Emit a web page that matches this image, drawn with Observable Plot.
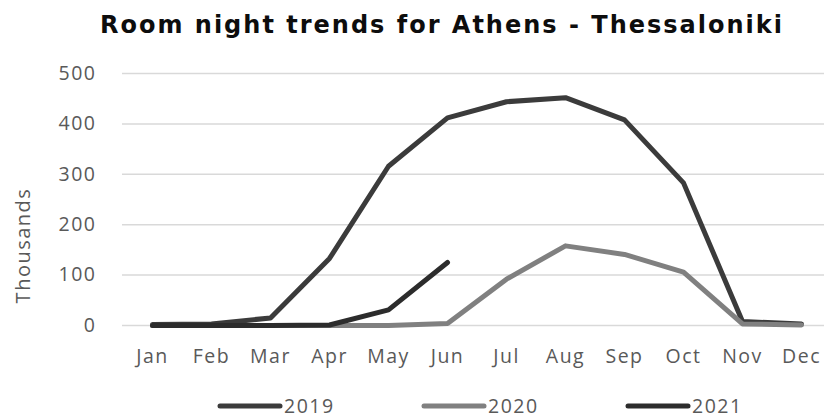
<!DOCTYPE html>
<html>
<head>
<meta charset="utf-8">
<script src="https://cdn.jsdelivr.net/npm/d3@7"></script>
<script src="https://cdn.jsdelivr.net/npm/@observablehq/plot@0.6"></script>
<style>
  html, body { margin: 0; padding: 0; background: #fff; }
  #wrap { position: relative; width: 824px; height: 420px; overflow: hidden; background: #fff; }
  #title { position: absolute; left: 0; top: 0; width: 824px; height: 52px; text-align: center;
           font-family: "DejaVu Sans", sans-serif; font-weight: bold; font-size: 24px; color: #0d0d0d;
           letter-spacing: 2px; line-height: 50px; padding-left: 60px; box-sizing: border-box; white-space: nowrap; }
  #chart { position: absolute; left: 0; top: 52px; }
  #legend { position: absolute; left: 0; top: 395px; width: 824px; height: 22px; }
  .item { position: absolute; top: 0; display: flex; align-items: center; height: 22px;
          font-family: "Open Sans", sans-serif; font-size: 19.5px; letter-spacing: 1.5px; color: #595959; }
  .item span { line-height: 1; }
  #chart svg text { letter-spacing: 1.5px; }
</style>
</head>
<body>
<div id="wrap">
  <div id="title">Room night trends for Athens - Thessaloniki</div>
  <div id="chart"></div>
  <div id="legend"></div>
</div>
<script>
const months = ["Jan","Feb","Mar","Apr","May","Jun","Jul","Aug","Sep","Oct","Nov","Dec"];
const years = ["2019","2020","2021"];
const v2019 = [2, 3, 15, 133, 316, 412, 444, 452, 408, 283, 8, 3];
const v2020 = [0, 0, 0, 0, 0, 4, 92, 158, 141, 106, 3, 1];
const v2021 = [0, 0, 0, 1, 31, 125];
const yTicks = [0, 100, 200, 300, 400, 500];
const colors = ["#3b3b3b", "#808080", "#2c2c2c"];

const rows = [];
[v2019, v2020, v2021].forEach((vals, i) => {
  vals.forEach((v, j) => rows.push({year: years[i], month: months[j], value: v}));
});

const chart = Plot.plot({
  width: 824,
  height: 340,
  marginLeft: 122,
  marginRight: 0,
  marginTop: 21,
  marginBottom: 67,
  style: {fontFamily: "Open Sans, sans-serif", fontSize: "19px", color: "#595959", background: "#fff"},
  x: {type: "point", domain: months, range: [152, 801], padding: 0, label: null},
  y: {domain: [0, 500], range: [273, 21], label: null},
  color: {domain: years, range: colors},
  marks: [
    Plot.ruleY(yTicks, {stroke: "#d9d9d9", strokeWidth: 1.5}),
    Plot.axisY({ticks: yTicks, tickSize: 0, tickPadding: 26, fontSize: 19.5, label: null}),
    Plot.axisX({tickSize: 0, tickPadding: 24, fontSize: 19.5, label: null}),
    Plot.text(["Thousands"], {frameAnchor: "left", dx: -99, dy: 46, rotate: -90, fontSize: 20, fill: "#595959", textAnchor: "middle"}),
    Plot.line(rows, {x: "month", y: "value", z: "year", stroke: "year", strokeWidth: 5,
                     strokeLinejoin: "round", strokeLinecap: "round"})
  ]
});
document.getElementById("chart").appendChild(chart);

const legend = document.getElementById("legend");
const lefts = [216, 420, 624];
years.forEach((y, i) => {
  const item = document.createElement("div");
  item.className = "item";
  item.style.left = lefts[i] + "px";
  item.innerHTML = `<svg width="68" height="10"><line x1="4" y1="5" x2="64" y2="5" stroke="${colors[i]}" stroke-width="5" stroke-linecap="round"/></svg><span>${y}</span>`;
  legend.appendChild(item);
});
</script>
</body>
</html>
